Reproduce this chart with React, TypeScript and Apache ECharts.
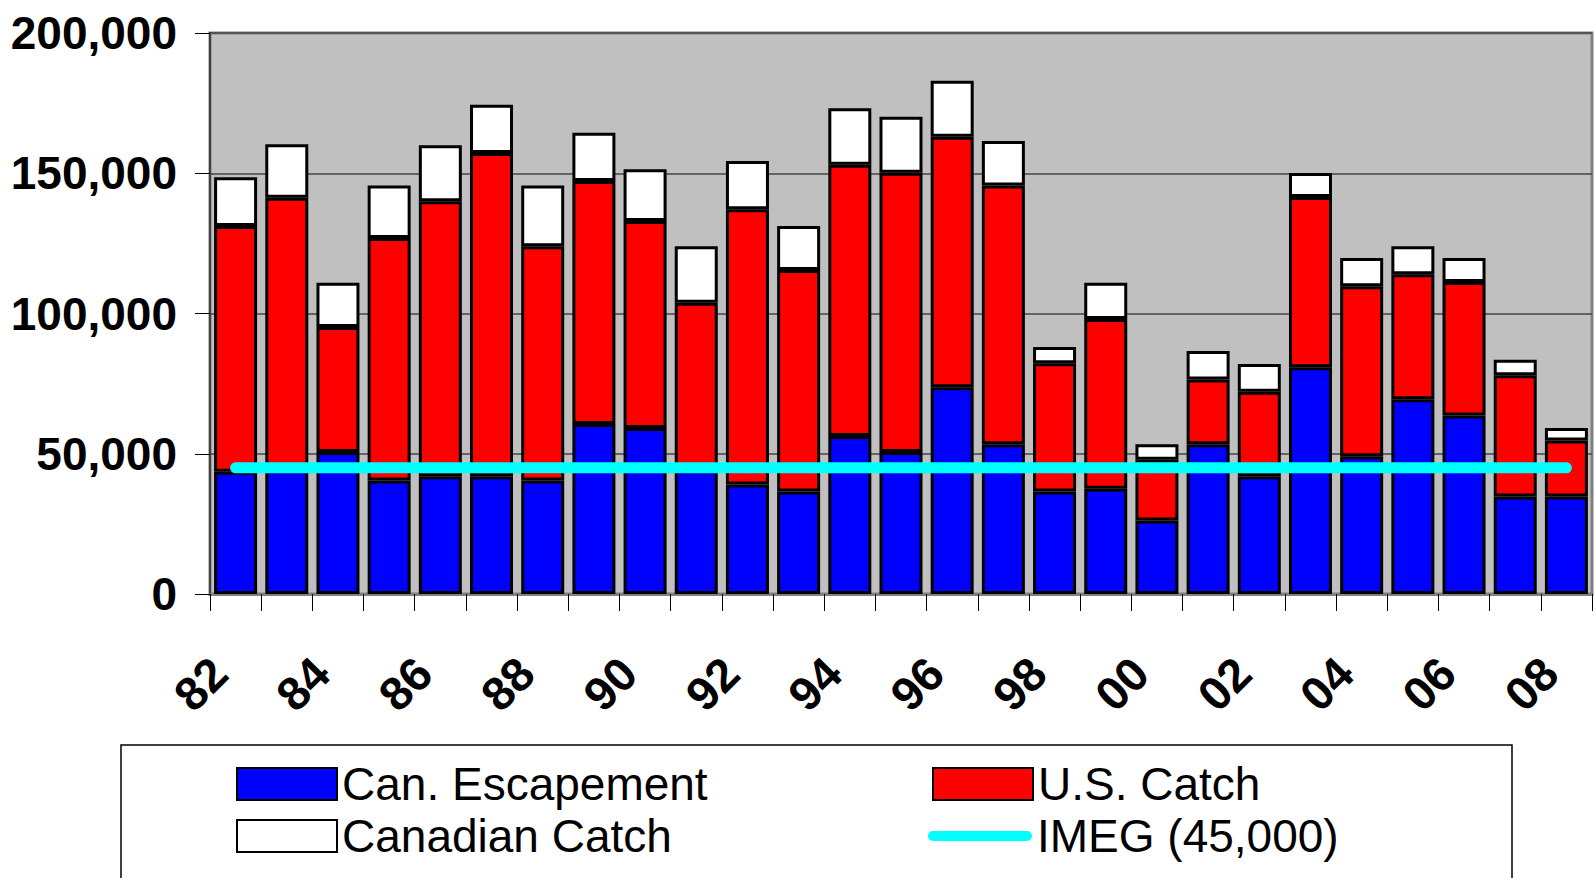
import React, { useEffect, useRef } from 'react';
import * as echarts from 'echarts';

const years = ['82', '83', '84', '85', '86', '87', '88', '89', '90', '91', '92', '93', '94', '95', '96', '97', '98', '99', '00', '01', '02', '03', '04', '05', '06', '07', '08'];
const canEscapement = [43600, 44000, 50600, 40500, 42000, 42000, 40500, 60600, 59200, 44000, 39000, 36500, 56300, 50600, 73700, 53400, 36500, 37500, 26200, 53400, 42000, 80800, 49100, 69400, 63600, 34800, 34800];
const usCatch = [87600, 97300, 44600, 86400, 98000, 115200, 83500, 86600, 73800, 59800, 98200, 79000, 96700, 99600, 89300, 92200, 45800, 60500, 21700, 23100, 30100, 60700, 60600, 44600, 47600, 43200, 19900];
const canadianCatch = [17400, 19000, 15800, 18700, 20000, 17200, 21600, 17200, 18400, 20200, 17200, 15700, 20200, 19900, 20000, 15900, 5800, 13000, 5500, 10100, 9900, 8600, 10100, 10000, 8600, 5500, 4500];
const imeg = [45000, 45000, 45000, 45000, 45000, 45000, 45000, 45000, 45000, 45000, 45000, 45000, 45000, 45000, 45000, 45000, 45000, 45000, 45000, 45000, 45000, 45000, 45000, 45000, 45000, 45000, 45000];
const yTickValues = [0, 50000, 100000, 150000, 200000];
const yTickLabels = ['0', '50,000', '100,000', '150,000', '200,000'];

const FONT = '"Liberation Sans", Arial, sans-serif';

export default function App() {
  const ref = useRef<HTMLDivElement>(null);
  useEffect(() => {
    const chart = echarts.init(ref.current!, null, { renderer: 'svg' });
    const legendText = { fontFamily: FONT, fontSize: 46, color: '#000', lineHeight: 50 };
    const barLegend = (name: string, left: number, top: number) => ({
      show: true,
      data: [{ name, icon: 'rect' }],
      left,
      top,
      padding: 0,
      itemWidth: 100,
      itemHeight: 32,
      selectedMode: false,
      textStyle: legendText,
    });
    chart.setOption({
      animation: false,
      backgroundColor: '#fff',
      grid: {
        left: 210,
        right: 4,
        top: 33,
        bottom: 284,
        show: true,
        backgroundColor: '#C0C0C0',
        borderColor: '#808080',
        borderWidth: 3,
      },
      legend: [
        barLegend('Can. Escapement', 236, 759),
        barLegend('U.S. Catch', 932, 759),
        barLegend('Canadian Catch', 236, 811),
        {
          show: true,
          data: [{ name: 'IMEG (45,000)', icon: 'path://M5,0H99A5,5,0,0,1,99,10H5A5,5,0,0,1,5,0Z' }],
          left: 928,
          top: 811,
          padding: 0,
          itemWidth: 104,
          itemHeight: 11,
          selectedMode: false,
          itemStyle: { borderWidth: 0, color: '#00FFFF' },
          textStyle: legendText,
        },
      ],
      graphic: [
        {
          type: 'rect',
          shape: { x: 121, y: 745, width: 1391, height: 200 },
          style: { fill: 'none', stroke: '#000', lineWidth: 1.5 },
        },
      ],
      xAxis: {
        type: 'category',
        data: years,
        axisLine: { show: true, lineStyle: { color: '#808080', width: 3 } },
        axisTick: { show: true, interval: 0, length: 17, lineStyle: { color: '#000', width: 1 } },
        axisLabel: {
          interval: 1,
          rotate: 45,
          align: 'right',
          verticalAlign: 'bottom',
          margin: 88,
          fontFamily: FONT,
          fontWeight: 'bold',
          fontSize: 47,
          color: '#000',
        },
      },
      yAxis: {
        type: 'value',
        min: 0,
        max: 200000,
        interval: 50000,
        axisLine: { show: true, lineStyle: { color: '#404040', width: 2 } },
        axisTick: { show: true, length: 15, lineStyle: { color: '#000', width: 1 } },
        splitLine: { show: true, lineStyle: { color: '#444', width: 1.5 } },
        axisLabel: {
          margin: 33,
          fontFamily: FONT,
          fontWeight: 'bold',
          fontSize: 46,
          color: '#000',
          formatter: (v: number) => {
            const i = yTickValues.indexOf(v);
            return i >= 0 ? yTickLabels[i] : '';
          },
        },
      },
      series: [
        {
          name: 'Can. Escapement',
          type: 'bar',
          stack: 'total',
          data: canEscapement,
          barCategoryGap: '16%',
          itemStyle: { color: '#0000FF', borderColor: '#000', borderWidth: 3 },
        },
        {
          name: 'U.S. Catch',
          type: 'bar',
          stack: 'total',
          data: usCatch,
          barCategoryGap: '16%',
          itemStyle: { color: '#FF0000', borderColor: '#000', borderWidth: 3 },
        },
        {
          name: 'Canadian Catch',
          type: 'bar',
          stack: 'total',
          data: canadianCatch,
          barCategoryGap: '16%',
          itemStyle: { color: '#FFFFFF', borderColor: '#000', borderWidth: 3 },
        },
        {
          name: 'IMEG (45,000)',
          type: 'line',
          data: imeg,
          symbol: 'none',
          color: '#00FFFF',
          z: 5,
          lineStyle: { color: '#00FFFF', width: 11, cap: 'round' },
          itemStyle: { color: '#00FFFF' },
        },
      ],
    });
    return () => chart.dispose();
  }, []);
  return <div ref={ref} style={{ position: 'fixed', left: 0, top: 0, width: 1596, height: 878 }} />;
}
